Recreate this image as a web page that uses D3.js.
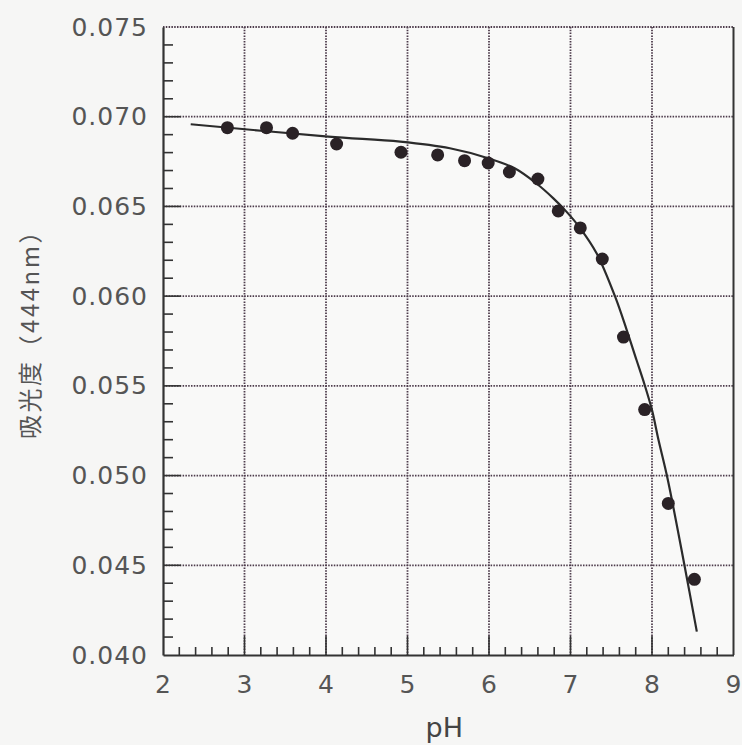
<!DOCTYPE html>
<html>
<head>
<meta charset="utf-8">
<script src="https://cdn.jsdelivr.net/npm/d3@7"></script>
<style>
  html, body { margin: 0; padding: 0; background: #f6f6f5; }
  svg { display: block; }
</style>
</head>
<body>
<svg id="chart" width="742" height="745"></svg>
<script>
// ---- data ----
const pointPH  = [2.79, 3.27, 3.59, 4.13, 4.92, 5.37, 5.70, 5.99, 6.25, 6.60, 6.85, 7.12, 7.39, 7.65, 7.91, 8.20, 8.52];
const pointAbs = [0.06939, 0.06939, 0.06908, 0.06848, 0.06802, 0.06787, 0.06755, 0.06742, 0.06692, 0.06653, 0.06475, 0.06380, 0.06207, 0.05772, 0.05368, 0.04845, 0.04422];

const curvePH  = [2.34, 4.03, 4.91, 5.52, 6.01, 6.32, 6.59, 6.79, 6.95, 7.12, 7.32, 7.55, 7.69, 7.81, 7.91, 8.00, 8.08, 8.19, 8.40, 8.55];
const curveAbs = [0.06958, 0.06889, 0.06861, 0.06824, 0.06766, 0.06711, 0.06625, 0.06545, 0.06471, 0.06378, 0.06239, 0.05994, 0.05811, 0.05644, 0.05505, 0.05365, 0.05198, 0.04985, 0.04496, 0.0413];

const xTickValues = [2, 3, 4, 5, 6, 7, 8, 9];
const yTickValues = [0.040, 0.045, 0.050, 0.055, 0.060, 0.065, 0.070, 0.075];
const xLabel = "pH";
const yLabel = "吸光度（444nm）";

// ---- layout ----
const svg = d3.select("#chart");
const mLeft = 163, mRight = 733.5, mTop = 27, mBottom = 655;

const x = d3.scaleLinear().domain([2, 9]).range([mLeft, mRight]);
const y = d3.scaleLinear().domain([0.040, 0.075]).range([mBottom, mTop]);

const gridColor = "#4e3c4c";
const axisColor = "#333";
const labelColor = "#555";

svg.append("rect").attr("x", mLeft).attr("y", mTop)
  .attr("width", mRight - mLeft).attr("height", mBottom - mTop)
  .attr("fill", "#f9f9f8");

// dotted grid lines
const g = svg.append("g");
g.selectAll("line.vg").data(xTickValues.slice(1, -1)).join("line")
  .attr("x1", d => x(d)).attr("x2", d => x(d))
  .attr("y1", mTop).attr("y2", mBottom)
  .attr("stroke", gridColor).attr("stroke-width", 1.8)
  .attr("stroke-dasharray", "1.5 1.3");
g.selectAll("line.hg").data(yTickValues.slice(1)).join("line")
  .attr("x1", mLeft).attr("x2", mRight)
  .attr("y1", d => y(d)).attr("y2", d => y(d))
  .attr("stroke", gridColor).attr("stroke-width", 1.8)
  .attr("stroke-dasharray", "1.5 1.3");

// right border (solid)
svg.append("line").attr("x1", mRight).attr("x2", mRight)
  .attr("y1", mTop).attr("y2", mBottom)
  .attr("stroke", axisColor).attr("stroke-width", 2);

// minor ticks
const xMinor = d3.range(2, 9.0001, 0.2).filter(v => Math.abs(v - Math.round(v)) > 1e-6);
const yMinor = d3.range(0.040, 0.07501, 0.001).filter(v => Math.abs(v * 200 - Math.round(v * 200)) > 1e-6);

svg.append("g").selectAll("line").data(xMinor).join("line")
  .attr("x1", d => x(d)).attr("x2", d => x(d))
  .attr("y1", mBottom).attr("y2", mBottom - 8)
  .attr("stroke", axisColor).attr("stroke-width", 1.6);
svg.append("g").selectAll("line").data(xTickValues.slice(1, -1)).join("line")
  .attr("x1", d => x(d)).attr("x2", d => x(d))
  .attr("y1", mBottom).attr("y2", mBottom - 19)
  .attr("stroke", axisColor).attr("stroke-width", 1.6);

svg.append("g").selectAll("line").data(yMinor).join("line")
  .attr("x1", mLeft).attr("x2", mLeft + 10)
  .attr("y1", d => y(d)).attr("y2", d => y(d))
  .attr("stroke", axisColor).attr("stroke-width", 1.6);
svg.append("g").selectAll("line").data(yTickValues.slice(1, -1)).join("line")
  .attr("x1", mLeft).attr("x2", mLeft + 18)
  .attr("y1", d => y(d)).attr("y2", d => y(d))
  .attr("stroke", axisColor).attr("stroke-width", 1.6);

// axes
const xAxis = d3.axisBottom(x).tickValues(xTickValues).tickSize(0).tickPadding(20).tickFormat(d3.format("d"));
const yAxis = d3.axisLeft(y).tickValues(yTickValues).tickSize(0).tickPadding(15).tickFormat(d3.format(".3f"));

const gx = svg.append("g").attr("transform", `translate(0,${mBottom})`).call(xAxis);
const gy = svg.append("g").attr("transform", `translate(${mLeft},0)`).call(yAxis);
[gx, gy].forEach(ax => {
  ax.select(".domain").attr("stroke", axisColor).attr("stroke-width", 2.2);
  ax.selectAll("text")
    .attr("fill", labelColor)
    .style("font-family", "'DejaVu Sans', sans-serif")
    .style("font-size", "25px")
    .style("letter-spacing", "1px");
});
gx.selectAll("text").attr("dy", "0.71em");

// curve
const line = d3.line().x(d => x(d[0])).y(d => y(d[1])).curve(d3.curveCatmullRom.alpha(0.5));
svg.append("path")
  .datum(curvePH.map((v, i) => [v, curveAbs[i]]))
  .attr("d", line)
  .attr("fill", "none")
  .attr("stroke", "#2b2b2b")
  .attr("stroke-width", 2.2);

// points
svg.append("g").selectAll("circle").data(pointPH.map((v, i) => [v, pointAbs[i]])).join("circle")
  .attr("cx", d => x(d[0])).attr("cy", d => y(d[1]))
  .attr("r", 6.5)
  .attr("fill", "#2a2226");

// axis titles
svg.append("text")
  .attr("x", (mLeft + mRight) / 2 - 4).attr("y", 737)
  .attr("text-anchor", "middle")
  .attr("fill", "#444")
  .style("font-family", "'DejaVu Sans', sans-serif")
  .style("font-size", "27px")
  .text(xLabel);

svg.append("text")
  .attr("transform", `translate(39,328) rotate(-90)`)
  .attr("text-anchor", "middle")
  .attr("fill", "#555")
  .style("font-family", "'Noto Sans CJK JP', sans-serif")
  .style("font-size", "24px")
  .style("letter-spacing", "2.5px")
  .text(yLabel);
</script>
</body>
</html>
